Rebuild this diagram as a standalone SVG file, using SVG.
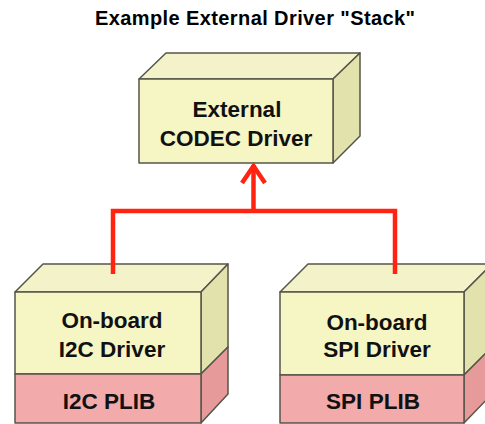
<svg xmlns="http://www.w3.org/2000/svg" width="485" height="424" viewBox="0 0 485 424">
<style>
.edge{stroke:#55554a;stroke-width:1.5;stroke-linejoin:round}
.yf{fill:#f6f6c4}
.yt{fill:#f3f2c8}
.ys{fill:#e2e2ad}
.pf{fill:#f2aaaa}
.ps{fill:#e69a9a}
.lbl{font-family:"Liberation Sans",Arial,sans-serif;font-weight:bold;font-size:22.5px;fill:#111;text-anchor:middle}
.title{font-family:"Liberation Sans",Arial,sans-serif;font-weight:bold;font-size:20px;fill:#000;text-anchor:middle}
.conn{fill:none;stroke:#ff2412;stroke-width:4.5;stroke-linejoin:miter}
</style>
<rect width="485" height="424" fill="#fff"/>
<text class="title" x="255" y="25" textLength="320" lengthAdjust="spacing">Example External Driver "Stack"</text>

<g id="codec">
  <polygon class="yt edge" points="139,79 166,53 360,53 333,79"/>
  <polygon class="ys edge" points="333,79 360,53 360,136 333,163"/>
  <rect class="yf edge" x="139" y="79" width="194" height="84"/>
  <text class="lbl" x="237" y="117">External</text>
  <text class="lbl" x="236" y="146">CODEC Driver</text>
</g>

<g id="i2c">
  <polygon class="yt edge" points="15,292 43,264 228,264 201,292"/>
  <polygon class="ys edge" points="201,292 228,264 228,347 201,374"/>
  <polygon class="ps edge" points="201,374 228,347 228,394 201,423"/>
  <rect class="yf edge" x="15" y="292" width="186" height="82"/>
  <rect class="pf edge" x="15" y="374" width="186" height="49"/>
  <text class="lbl" x="112" y="328">On-board</text>
  <text class="lbl" x="112" y="357">I2C Driver</text>
  <text class="lbl" x="109" y="409">I2C PLIB</text>
</g>

<g id="spi">
  <polygon class="yt edge" points="280,292 308,264 492,264 464,292"/>
  <polygon class="ys edge" points="464,292 492,264 492,347 464,375"/>
  <polygon class="ps edge" points="464,375 492,347 492,394 464,423"/>
  <rect class="yf edge" x="280" y="292" width="184" height="83"/>
  <rect class="pf edge" x="280" y="375" width="184" height="48"/>
  <text class="lbl" x="377" y="330">On-board</text>
  <text class="lbl" x="377" y="357">SPI Driver</text>
  <text class="lbl" x="373" y="409">SPI PLIB</text>
</g>

<g id="connectors">
  <polyline class="conn" points="113,274 113,211 395,211 395,274"/>
  <line class="conn" x1="253.5" y1="211" x2="253.5" y2="165"/>
  <polyline class="conn" points="242,183 253.5,166 265,183"/>
</g>
</svg>
